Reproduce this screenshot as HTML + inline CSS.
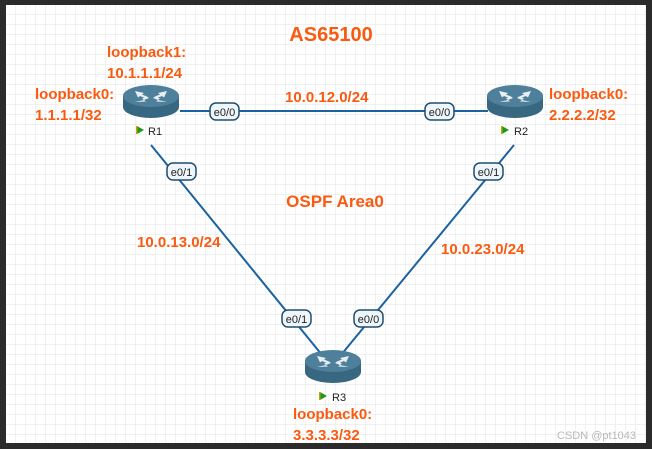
<!DOCTYPE html>
<html><head><meta charset="utf-8"><style>
html,body{margin:0;padding:0;width:652px;height:449px;overflow:hidden;background:#fff}
svg{display:block}
.o{font-family:"Liberation Sans",Arial,sans-serif;font-weight:bold;fill:#fa5a0f}
.l{font-family:"Liberation Sans",Arial,sans-serif;font-size:11px;fill:#222}
</style></head><body>
<svg width="652" height="449" viewBox="0 0 652 449" xmlns="http://www.w3.org/2000/svg">
<defs>
<pattern id="g" x="5" y="4" width="10" height="10" patternUnits="userSpaceOnUse">
<path d="M0 0H10M0 0V10" stroke="#e3e3e3" stroke-width="1" fill="none"/>
</pattern>
<g id="rt">
<path d="M-28 -5 V6 A28 11 0 0 0 28 6 V-5 Z" fill="#386782"/>
<ellipse cx="0" cy="-5" rx="28" ry="11" fill="#4f809b"/>
<g fill="#e8eef2">
<path d="M-16 -10 l9 2 -2 1.5 5 2 -2 1.5 -5 -2 -2 1.5z"/>
<path d="M16 -10 l-9 2 2 1.5 -5 2 2 1.5 5 -2 2 1.5z"/>
<path d="M-16 1 l9 -2 -2 -1.5 5 -2 2 1.5 -5 2 2 1.5z"/>
<path d="M16 1 l-9 -2 2 -1.5 -5 -2 -2 1.5 5 2 -2 1.5z"/>
</g>
</g>
</defs>
<rect x="0" y="0" width="652" height="449" fill="url(#g)"/>
<rect x="0" y="0" width="652" height="5" fill="#2b2b2b"/>
<rect x="0" y="0" width="6" height="449" fill="#2b2b2b"/>
<rect x="0" y="443" width="652" height="6" fill="#2b2b2b"/>
<rect x="646" y="0" width="6" height="449" fill="#2b2b2b"/>
<g stroke="#1a62a0" stroke-width="2">
<line x1="180" y1="111" x2="488" y2="111"/>
<line x1="151" y1="145" x2="322" y2="355"/>
<line x1="514" y1="145" x2="341" y2="355"/>
</g>
<use href="#rt" x="151" y="101"/>
<use href="#rt" x="515" y="101"/>
<use href="#rt" x="333" y="366"/>
<g>
<path d="M137 126 l7 4 -7 4z" fill="#1a9a1a"/><rect x="136" y="126" width="1.5" height="8" fill="#c8a000"/>
<text x="148" y="135" class="l">R1</text>
<path d="M502 126 l7 4 -7 4z" fill="#1a9a1a"/><rect x="501" y="126" width="1.5" height="8" fill="#c8a000"/>
<text x="514" y="135" class="l">R2</text>
<path d="M320 392 l7 4 -7 4z" fill="#1a9a1a"/><rect x="319" y="392" width="1.5" height="8" fill="#c8a000"/>
<text x="332" y="401" class="l">R3</text>
</g>
<g fill="#eef6fb" stroke="#1f4e6e" stroke-width="1.5">
<rect x="210" y="103" width="29" height="17" rx="6"/>
<rect x="425" y="103" width="29" height="17" rx="6"/>
<rect x="167" y="163" width="29" height="17" rx="6"/>
<rect x="474" y="163" width="29" height="17" rx="6"/>
<rect x="282" y="310" width="29" height="17" rx="6"/>
<rect x="354" y="310" width="29" height="17" rx="6"/>
</g>
<g class="l" text-anchor="middle">
<text x="224.5" y="116">e0/0</text>
<text x="439.5" y="116">e0/0</text>
<text x="181.5" y="176">e0/1</text>
<text x="488.5" y="176">e0/1</text>
<text x="296.5" y="323">e0/1</text>
<text x="368.5" y="323">e0/0</text>
</g>
<text x="331" y="41" class="o" font-size="20" text-anchor="middle">AS65100</text>
<text x="335" y="207" class="o" font-size="17" text-anchor="middle">OSPF Area0</text>
<g class="o" font-size="15">
<text x="107" y="57">loopback1:</text>
<text x="107" y="78">10.1.1.1/24</text>
<text x="35" y="99">loopback0:</text>
<text x="35" y="120">1.1.1.1/32</text>
<text x="549" y="99">loopback0:</text>
<text x="549" y="120">2.2.2.2/32</text>
<text x="285" y="102">10.0.12.0/24</text>
<text x="137" y="247">10.0.13.0/24</text>
<text x="441" y="254">10.0.23.0/24</text>
<text x="293" y="419">loopback0:</text>
<text x="293" y="440">3.3.3.3/32</text>
</g>
<text x="557" y="439" font-family="Liberation Sans,Arial,sans-serif" font-size="11" fill="#b8b8b8">CSDN @pt1043</text>
</svg>
</body></html>
